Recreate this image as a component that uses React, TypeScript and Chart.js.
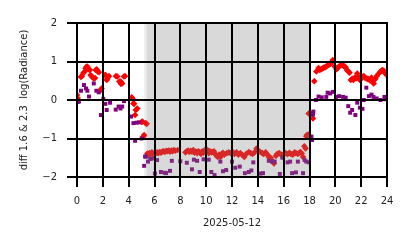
import React, { useEffect, useRef } from "react";
import { Chart, registerables } from "chart.js";

Chart.register(...registerables);

// Red series (diff 1.6 µm), hours and values
const redHours = [
  0.0, 0.05, 0.3, 0.38, 0.49, 0.6, 0.67, 0.72, 0.8, 0.9, 1.0, 1.06, 1.14, 1.3, 1.4, 1.45, 1.52, 1.6, 1.7, 1.84, 1.9,
  2.17, 2.22, 2.3, 2.35, 2.48, 3.02, 3.12, 3.28, 3.38, 3.4, 3.5, 3.63, 3.72,
  4.24, 4.29, 4.37, 4.42, 4.5, 4.55, 4.67, 5.0, 5.06, 5.14, 5.2, 5.3, 5.4,
  5.45, 5.55, 5.6, 5.7, 5.8, 5.9, 6.0, 6.1, 6.2, 6.3, 6.4, 6.5, 6.6, 6.7, 6.8, 6.9, 7.0, 7.1, 7.2, 7.3, 7.4, 7.5, 7.6,
  7.8, 8.4, 8.5, 8.6, 8.7, 8.8, 8.9, 9.0, 9.1, 9.2, 9.3, 9.4, 9.5, 9.6, 9.7, 9.8, 9.9, 10.0, 10.1, 10.2, 10.3, 10.4,
  10.5, 10.6, 10.7, 10.8, 10.9, 11.0, 11.1, 11.2, 11.3, 11.4, 11.6, 11.75, 11.9, 12.05, 12.2, 12.35, 12.5, 12.65, 12.8,
  12.95, 13.1, 13.3, 13.45, 13.6, 13.75, 13.9, 14.05, 14.2, 14.35, 14.45, 14.6, 14.75, 14.85, 15.0, 15.1, 15.25, 15.4,
  15.5, 15.65, 15.8, 15.9, 16.05, 16.15, 16.3, 16.45, 16.55, 16.7, 16.85, 16.95, 17.1, 17.2, 17.3, 17.4, 17.5, 17.6,
  17.7, 17.75, 17.8, 17.9, 17.93, 18.1, 18.27, 18.37, 18.53, 18.7, 18.8, 18.9, 19.0, 19.1, 19.2, 19.3, 19.4, 19.5,
  19.6, 19.7, 19.8, 19.95, 20.1, 20.2, 20.35, 20.5, 20.6, 20.7, 20.8, 20.9, 21.0, 21.1, 21.2, 21.3, 21.4, 21.5, 21.6,
  21.7, 21.8, 21.9, 22.0, 22.1, 22.2, 22.3, 22.4, 22.5, 22.6, 22.7, 22.8, 22.9, 22.97, 23.1, 23.2, 23.35, 23.5, 23.6,
  23.65, 23.75, 23.85, 23.95,
];
const redValues = [
  0.13, 0.05, 0.6, 0.62, 0.7, 0.74, 0.82, 0.86, 0.87, 0.8, 0.78, 0.65, 0.61, 0.56, 0.57, 0.78, 0.8, 0.74, 0.72, 0.26, 0.3,
  0.65, 0.65, 0.52, 0.55, 0.62, 0.62, 0.61, 0.48, 0.48, 0.42, 0.43, 0.61, 0.62,
  0.07, 0.04, -0.09, -0.1, -0.39, -0.26, -0.22, -0.57, -0.56, -0.95, -0.91, -0.6, -0.62,
  -1.39, -1.42, -1.38, -1.4, -1.36, -1.41, -1.37, -1.39, -1.36, -1.38, -1.35, -1.37, -1.34, -1.33, -1.35, -1.32, -1.33,
  -1.31, -1.34, -1.31, -1.33, -1.3, -1.32,
  -1.3, -1.36, -1.33, -1.31, -1.35, -1.32, -1.34, -1.3, -1.37, -1.34, -1.38, -1.33, -1.36, -1.4, -1.33, -1.37, -1.3,
  -1.34, -1.3, -1.38, -1.33, -1.36,
  -1.35, -1.33, -1.4, -1.45, -1.48, -1.42, -1.48, -1.4, -1.37, -1.42, -1.38, -1.36, -1.38, -1.35, -1.4, -1.36, -1.42,
  -1.38, -1.43,
  -1.48, -1.4, -1.35, -1.38, -1.4, -1.36, -1.26, -1.33, -1.35, -1.38, -1.4, -1.36, -1.42, -1.48, -1.5, -1.57, -1.65,
  -1.45,
  -1.4, -1.38, -1.42, -1.43, -1.39, -1.38, -1.41, -1.37, -1.4, -1.42, -1.36, -1.38, -1.4, -1.37, -1.35, -1.39, -1.48,
  -1.2,
  -1.26, -0.94, -0.91, -0.9, -0.35, -0.35, -0.48, 0.49, 0.74, 0.83, 0.78, 0.8, 0.82, 0.84, 0.85, 0.87, 0.9, 0.91,
  0.94, 0.96, 1.04, 0.87, 0.8, 0.84, 0.89, 0.91, 0.9, 0.87, 0.85, 0.78, 0.74, 0.71, 0.52, 0.55, 0.52, 0.58, 0.56,
  0.69, 0.6, 0.52, 0.58, 0.6, 0.62, 0.58, 0.56, 0.55, 0.54, 0.5, 0.58, 0.52, 0.43, 0.55, 0.62, 0.68, 0.74, 0.76,
  0.78, 0.76, 0.7, 0.66,
];

// Purple series (diff 2.3 µm)
const purpleHours = [
  0.06, 0.15, 0.31, 0.54, 0.7, 0.8, 0.93, 1.3, 1.5, 1.68, 1.86, 2.04, 2.2, 2.3, 2.56, 3.0, 3.22, 3.37, 3.5, 3.64,
  4.19, 4.37, 4.5, 4.6, 4.8, 5.0, 5.2, 5.27, 5.35, 5.5, 5.67, 5.8, 6.03, 6.2, 6.5, 6.8, 6.9, 7.2, 7.34, 8.0, 8.5, 8.9,
  9.05, 9.3, 9.5, 9.8, 10.2, 10.4, 10.65, 11.1, 11.3, 11.55, 12.0, 12.25, 12.6, 13.0, 13.3, 13.5, 13.65, 14.2, 14.4,
  14.85, 15.1, 15.3, 15.7, 15.9, 16.3, 16.5, 16.65, 16.95, 17.1, 17.5, 17.62, 17.75, 17.95,
  18.15, 18.2, 18.27, 18.3, 18.5, 18.7, 18.95, 19.3, 19.4, 19.6, 19.8, 20.05, 20.3, 20.6, 20.8, 21.0, 21.15, 21.3,
  21.55, 21.7, 21.9, 22.1, 22.2, 22.4, 22.6, 22.8, 22.95, 23.2, 23.5, 23.8, 23.9,
];
const purpleValues = [
  -0.05, -0.04, 0.24, 0.39, 0.3, 0.24, 0.09, 0.43, 0.24, 0.2, -0.39, 0.03, -0.1, -0.26, -0.07, -0.25, -0.17, -0.22,
  -0.17, -0.03,
  -0.43, -0.6, -1.06, -0.59, -0.58, -1.0, -1.71, -1.47, -1.47, -1.6, -1.53, -1.52, -1.91, -1.56, -1.87, -1.89, -1.9,
  -1.84, -1.58, -1.59, -1.63, -1.8,
  -1.55, -1.58, -1.87, -1.54, -1.55, -1.87, -1.95, -1.6, -1.85, -1.82, -1.6, -1.76, -1.73, -1.9, -1.87, -1.83, -1.62,
  -1.91, -1.9,
  -1.58, -1.6, -1.6, -1.92, -1.5, -1.62, -1.6, -1.9, -1.88, -1.6, -1.9, -1.56, -1.6, -1.62,
  -0.95, -1.04, -0.38, -0.3, 0.0, 0.09, 0.07, 0.08, 0.19, 0.17, 0.21, 0.08, 0.1, 0.08, 0.06, -0.16, -0.33, -0.26,
  -0.39, -0.07, -0.2, -0.23, 0.0, 0.32, 0.1, 0.14, 0.08, 0.04, 0.0, 0.08, 0.02,
];

const xTicks = [0, 2, 4, 6, 8, 10, 12, 14, 16, 18, 20, 22, 24];
const yTicks = [-2, -1, 0, 1, 2];
const nightSpans = [
  { from: 5.2, to: 5.4, alpha: 0.15 },
  { from: 5.4, to: 18.0, alpha: 0.3 },
];
const xTitle = "2025-05-12";
const yTitle = "diff 1.6 & 2.3  log(Radiance)";

const FONT = "'DejaVu Sans', sans-serif";

const overlayPlugin = {
  id: "overlay",
  afterDatasetsDraw(chart: any) {
    const { ctx, chartArea } = chart;
    const { top, bottom, left, right } = chartArea;
    const xs = chart.scales.x;
    const ys = chart.scales.y;
    ctx.save();
    ctx.beginPath();
    ctx.rect(left, top, right - left, bottom - top);
    ctx.clip();
    for (const s of nightSpans) {
      const x1 = xs.getPixelForValue(s.from);
      const x2 = xs.getPixelForValue(s.to);
      ctx.fillStyle = `rgba(128,128,128,${s.alpha})`;
      ctx.fillRect(x1, top, x2 - x1, bottom - top);
    }
    ctx.restore();
    ctx.save();
    ctx.strokeStyle = "#000";
    ctx.lineWidth = 2;
    ctx.lineCap = "butt";
    for (const v of xTicks) {
      const px = Math.round(xs.getPixelForValue(v));
      ctx.beginPath();
      ctx.moveTo(px, top - 1);
      ctx.lineTo(px, bottom + 1);
      ctx.stroke();
    }
    for (const v of yTicks) {
      const py = Math.round(ys.getPixelForValue(v));
      ctx.beginPath();
      ctx.moveTo(left - 1, py);
      ctx.lineTo(right + 1, py);
      ctx.stroke();
    }
    ctx.restore();
  },
};

export default function App() {
  const ref = useRef<HTMLCanvasElement | null>(null);
  useEffect(() => {
    if (!ref.current) return;
    const red = redHours.map((h, i) => ({ x: h, y: redValues[i] }));
    const purple = purpleHours.map((h, i) => ({ x: h, y: purpleValues[i] }));
    const chart = new Chart(ref.current, {
      type: "scatter",
      data: {
        datasets: [
          {
            data: purple,
            pointStyle: "rect",
            radius: 2.8,
            backgroundColor: "#800080",
            borderWidth: 0,
            clip: 0,
          } as any,
          {
            data: red,
            pointStyle: "rectRot",
            radius: 3.3,
            backgroundColor: "#ff0000",
            borderWidth: 0,
            clip: 0,
          } as any,
        ],
      },
      options: {
        animation: false,
        responsive: false,
        devicePixelRatio: 1,
        layout: { padding: { top: 23, right: 27, left: 0, bottom: 0 } },
        plugins: { legend: { display: false }, tooltip: { enabled: false } },
        scales: {
          x: {
            type: "linear",
            min: 0,
            max: 24,
            afterFit: (s: any) => {
              s.height = 71;
            },
            afterBuildTicks: (s: any) => {
              s.ticks = xTicks.map((v) => ({ value: v }));
            },
            border: { display: false },
            grid: {
              drawOnChartArea: false,
              drawTicks: true,
              tickLength: 10,
              color: "#000",
              lineWidth: 2,
            },
            ticks: {
              color: "#222",
              font: { family: FONT, size: 10 },
              padding: 8,
              maxRotation: 0,
              autoSkip: false,
            },
            title: {
              display: true,
              text: xTitle,
              color: "#222",
              font: { family: FONT, size: 10 },
              padding: { top: 0, bottom: 19 },
            },
          },
          y: {
            type: "linear",
            min: -2,
            max: 2,
            afterFit: (s: any) => {
              s.width = 77;
            },
            afterBuildTicks: (s: any) => {
              s.ticks = yTicks.map((v) => ({ value: v }));
            },
            border: { display: false },
            grid: {
              drawOnChartArea: false,
              drawTicks: true,
              tickLength: 10,
              color: "#000",
              lineWidth: 2,
            },
            ticks: {
              color: "#222",
              font: { family: FONT, size: 10 },
              padding: 10,
              autoSkip: false,
              callback: (v: any) => (Number(v) < 0 ? "\u2212" + Math.abs(Number(v)) : String(v)),
            },
            title: {
              display: true,
              text: yTitle,
              color: "#222",
              font: { family: FONT, size: 10 },
              padding: { top: 18, bottom: 0 },
            },
          },
        },
      },
      plugins: [overlayPlugin],
    });
    return () => chart.destroy();
  }, []);
  return (
    <div style={{ position: "absolute", left: 0, top: 0, width: 414, height: 248, background: "#fff" }}>
      <canvas ref={ref} width={414} height={248} style={{ width: 414, height: 248, display: "block" }} />
    </div>
  );
}
